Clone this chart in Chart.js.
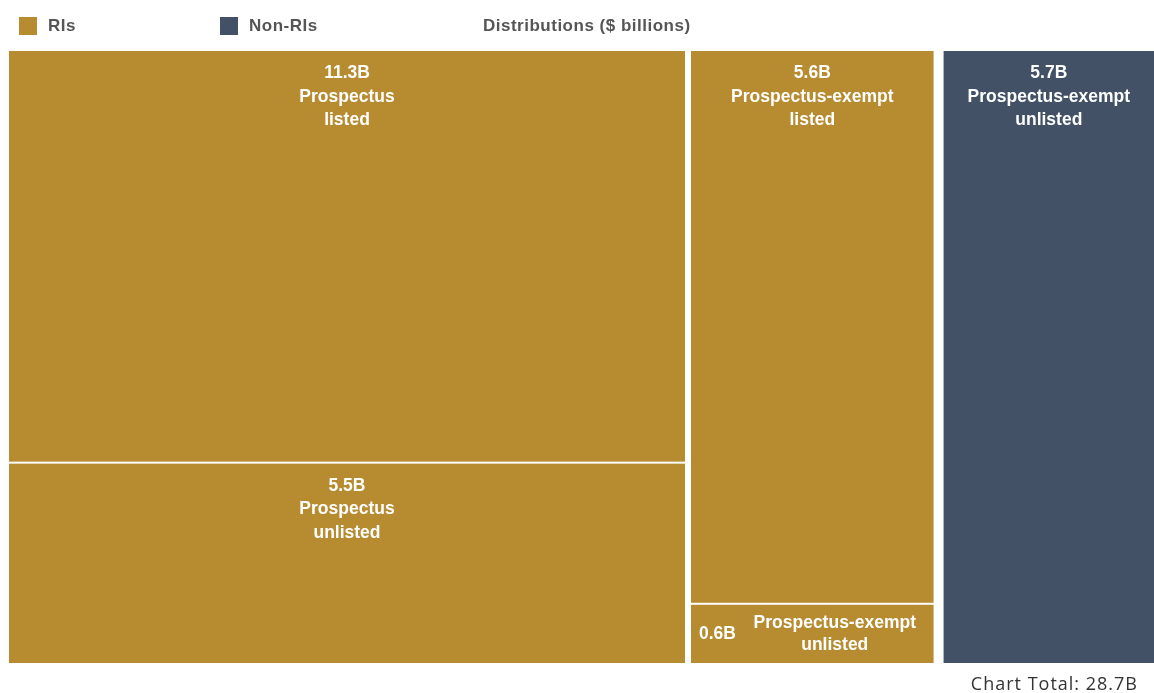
<!DOCTYPE html>
<html>
<head>
<meta charset="utf-8">
<script src="https://cdn.jsdelivr.net/npm/chart.js@4.4.1/dist/chart.umd.min.js"></script>
<style>
  html, body { margin: 0; padding: 0; background: #fff; }
  #wrap { width: 1154px; height: 693px; }
</style>
</head>
<body>
<div id="wrap"><canvas id="chart" width="1154" height="693"></canvas></div>
<script>
// Treemap cells: Distributions ($ billions)
const cellLabels = [
  ['Prospectus', 'listed'],
  ['Prospectus', 'unlisted'],
  ['Prospectus-exempt', 'listed'],
  ['Prospectus-exempt', 'unlisted'],
  ['Prospectus-exempt', 'unlisted'],
];
const cellValues = [11.3, 5.5, 5.6, 0.6, 5.7];
const cellGroups = ['RIs', 'RIs', 'RIs', 'RIs', 'Non-RIs'];
const cellColumns = [0, 0, 1, 1, 2]; // which treemap column each cell sits in
const groupNames = ['RIs', 'Non-RIs'];
const groupColors = ['#B78C31', '#425166'];
const chartTitle = 'Distributions ($ billions)';
const totalLabel = 'Chart Total: ';

const LABEL_FONT = 'bold 17.5px "Liberation Sans", Arial, sans-serif';
const LEGEND_FONT = 'bold 17px "Liberation Sans", Arial, sans-serif';
const LINE_H = 23.5;

const fmt = (v) => v.toFixed(1) + 'B';
const total = cellValues.reduce((a, b) => a + b, 0);

// slice layout in data units: x = billions along the width, y = share of the column
function buildCells() {
  const colTotals = {};
  cellValues.forEach((v, i) => {
    colTotals[cellColumns[i]] = (colTotals[cellColumns[i]] || 0) + v;
  });
  const colStart = {};
  let acc = 0;
  Object.keys(colTotals).sort((a, b) => a - b).forEach((c) => {
    colStart[c] = acc;
    acc += colTotals[c];
  });
  const yUsed = {};
  return cellValues.map((v, i) => {
    const c = cellColumns[i];
    const y0 = yUsed[c] || 0;
    const y1 = y0 + v / colTotals[c];
    yUsed[c] = y1;
    const x0 = colStart[c];
    const x1 = x0 + colTotals[c];
    return { x: (x0 + x1) / 2, y: (y0 + y1) / 2, x0, x1, y0, y1, v, lines: cellLabels[i], group: cellGroups[i], col: c };
  });
}

const cells = buildCells();

const datasets = groupNames.map((g, gi) => ({
  label: g,
  data: cells.filter((c) => c.group === g),
  backgroundColor: groupColors[gi],
  pointRadius: 0,
  pointHoverRadius: 0,
}));

const treemapPlugin = {
  id: 'treemapCells',
  beforeDatasetsDraw(chart) {
    const { ctx, scales: { x, y } } = chart;
    ctx.save();
    chart.data.datasets.forEach((ds) => {
      ds.data.forEach((c) => {
        // gaps: thin line between rows, wider between columns, widest between groups
        const leftNeighbour = cells.find((o) => o.col === c.col - 1);
        const rightNeighbour = cells.find((o) => o.col === c.col + 1);
        const gl = !leftNeighbour ? 0 : (leftNeighbour.group === c.group ? 3 : 5);
        const gr = !rightNeighbour ? 0 : (rightNeighbour.group === c.group ? 3 : 5);
        const gt = c.y0 > 0 ? 1 : 0;
        const gb = c.y1 < 0.999 ? 1 : 0;
        const px0 = x.getPixelForValue(c.x0) + gl;
        const px1 = x.getPixelForValue(c.x1) - gr;
        const py0 = y.getPixelForValue(c.y0) + gt;
        const py1 = y.getPixelForValue(c.y1) - gb;
        ctx.fillStyle = ds.backgroundColor;
        ctx.fillRect(px0, py0, px1 - px0, py1 - py0);

        // labels
        ctx.fillStyle = '#ffffff';
        ctx.font = LABEL_FONT;
        ctx.textBaseline = 'middle';
        const right = Math.min(px1, chart.width);
        const h = py1 - py0;
        if (h > LINE_H * 3 + 20) {
          ctx.textAlign = 'center';
          const cx = (px0 + right) / 2;
          [fmt(c.v)].concat(c.lines).forEach((t, k) => {
            ctx.fillText(t, cx, py0 + 22.5 + k * LINE_H);
          });
        } else {
          const cy = (py0 + py1) / 2;
          ctx.textAlign = 'left';
          const vt = fmt(c.v);
          ctx.fillText(vt, px0 + 8, cy);
          const vEnd = px0 + 8 + ctx.measureText(vt).width;
          ctx.textAlign = 'center';
          const cx = (vEnd + right) / 2;
          c.lines.forEach((t, k) => {
            ctx.fillText(t, cx, cy + (k - (c.lines.length - 1) / 2) * 22);
          });
        }
      });
    });
    ctx.restore();
  },
  afterDraw(chart) {
    const { ctx, chartArea } = chart;
    ctx.save();
    // legend row
    ctx.font = LEGEND_FONT;
    ctx.letterSpacing = '0.5px';
    ctx.textBaseline = 'middle';
    ctx.textAlign = 'left';
    const legendX = [19, 220];
    groupNames.forEach((g, gi) => {
      ctx.fillStyle = groupColors[gi];
      ctx.fillRect(legendX[gi], 17, 18, 18);
      ctx.fillStyle = '#555555';
      ctx.fillText(g, legendX[gi] + 29, 26);
    });
    ctx.fillText(chartTitle, 483, 26);
    // footer total
    ctx.font = '18px "Open Sans", "Liberation Sans", sans-serif';
    ctx.letterSpacing = '1px';
    ctx.fillStyle = '#333333';
    ctx.textAlign = 'right';
    ctx.fillText(totalLabel + fmt(total), 1138, chartArea.bottom + 22);
    ctx.restore();
  },
};

new Chart(document.getElementById('chart'), {
  type: 'scatter',
  data: { datasets },
  options: {
    responsive: false,
    animation: false,
    events: [],
    layout: { padding: { left: 9, top: 51, right: 0, bottom: 30 } },
    plugins: {
      legend: { display: false },
      title: { display: false },
      tooltip: { enabled: false },
    },
    scales: {
      x: { type: 'linear', min: 0, max: 28.33, display: false },
      y: { type: 'linear', min: 0, max: 1, reverse: true, display: false },
    },
  },
  plugins: [treemapPlugin],
});
</script>
</body>
</html>
